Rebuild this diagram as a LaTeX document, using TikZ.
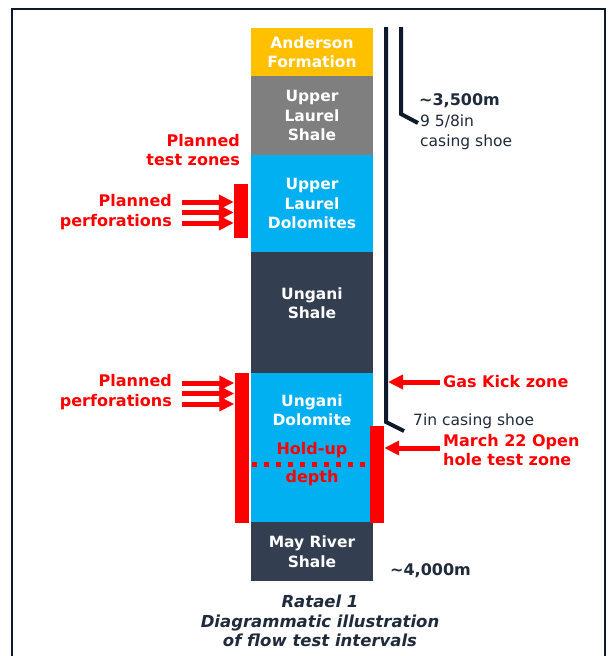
\documentclass[tikz,border=0pt]{standalone}
\usepackage{fontspec}
\setmainfont{DejaVu Sans}
\usetikzlibrary{arrows.meta,positioning}
\definecolor{andersonyellow}{HTML}{FFC000}
\definecolor{shalegrey}{HTML}{7F7F7F}
\definecolor{dolocyan}{HTML}{00B0F0}
\definecolor{shaledark}{HTML}{333F50}
\definecolor{casingnavy}{HTML}{0E1A2B}
\definecolor{textnavy}{HTML}{1F2A3A}
\definecolor{zonered}{HTML}{FF0000}

\begin{document}
\begin{tikzpicture}[x=1pt,y=-1pt,
    layer/.style={minimum width=122pt,inner sep=0pt,text=white,align=center,
                  font=\fontsize{15.5}{19.5}\selectfont\bfseries},
    redtxt/.style={text=zonered,inner sep=0pt,font=\fontsize{16}{19.5}\selectfont\bfseries},
    navytxt/.style={text=textnavy,inner sep=0pt,font=\fontsize{15.5}{19.5}\selectfont},
    bar/.style={fill=zonered,minimum width=14pt,inner sep=0pt},
    perf/.style={zonered,line width=5pt,-{Triangle[length=15pt,width=14pt]}},
    casing/.style={casingnavy,line width=4pt}
]
    \useasboundingbox (0,0) rectangle (611,656);
    \draw[casingnavy,line width=2pt] (12,680) -- (12,9) -- (605,9) -- (605,680);

    % formations
    \node[layer,fill=andersonyellow,minimum height=48pt] (anderson) at (312,52) {Anderson\\Formation};
    \node[layer,fill=shalegrey,minimum height=79pt]      (ulshale)  at (312,115.5) {Upper\\Laurel\\Shale};
    \node[layer,fill=dolocyan,minimum height=97pt]       (uldolo)   at (312,203.5) {Upper\\Laurel\\Dolomites};
    \node[layer,fill=shaledark,minimum height=121pt]     (ushale)   at (312,312.5) {};
    \node[layer,fill=dolocyan,minimum height=149pt]      (udolo)    at (312,447.5) {};
    \node[layer,fill=shaledark,minimum height=59pt]      (mrshale)  at (312,551.5) {May River\\Shale};
    \node[layer,minimum height=0pt] (ushaletxt) at (312,303) {Ungani\\Shale};
    \node[layer,minimum height=0pt] (udolotxt)  at (312,410) {Ungani\\Dolomite};

    % hold-up depth
    \node[redtxt] (holdup) at (312,450) {Hold-up};
    \node[redtxt] (depth)  at (312,478) {depth};
    \draw[zonered,line width=5pt,dash pattern=on 5pt off 7pt]
        ([yshift=-16.5pt,xshift=1pt]udolo.west) -- ([yshift=-16.5pt]udolo.east);

    % test zone bars
    \node[bar,minimum height=54pt]  (barA) at (241,211) {};
    \node[bar,minimum height=150pt] (barB) at (241.5,448) {};
    \node[bar,minimum height=97pt]  (barC) at (377,474.5) {};

    \node[redtxt,align=right,anchor=east] (testzones) at (240,150) {Planned\\test zones};
    \node[redtxt,align=right,anchor=east] (perfA) at (172,212) {Planned\\perforations};
    \node[redtxt,align=right,anchor=east] (perfB) at (172,392) {Planned\\perforations};
    \foreach \y in {202,212.5,223}
        \draw[perf] (182,\y) -- (barA.west |- 0,\y);
    \foreach \y in {383,393.5,404}
        \draw[perf] (182,\y) -- (barB.west |- 0,\y);

    % casings
    \coordinate (outertop)  at (386,27);
    \coordinate (outerbend) at (386,422);
    \coordinate (outershoe) at (404,431);
    \coordinate (innertop)  at (401,27);
    \coordinate (innerbend) at (401,114);
    \coordinate (innershoe) at (418,123);
    \draw[casing] (outertop) -- (outerbend) -- (outershoe);
    \draw[casing] (innertop) -- (innerbend) -- (innershoe);

    \node[navytxt,anchor=west,font=\fontsize{16}{19.5}\selectfont\bfseries] (depthA) at (419,101) {\textasciitilde3,500m};
    \node[navytxt,anchor=west,align=left] (shoeA) at (420,132) {9 5/8in\\casing shoe};
    \node[navytxt,anchor=west] (shoeB) at (413,421) {7in casing shoe};
    \node[navytxt,anchor=west,font=\fontsize{16}{19.5}\selectfont\bfseries] (depthB) at (390,571) {\textasciitilde4,000m};

    \node[redtxt,anchor=west] (gaskick) at (443,382) {Gas Kick zone};
    \node[redtxt,anchor=west,align=left] (openhole) at (443,450) {March 22 Open\\hole test zone};
    \draw[perf] ([xshift=-3pt]gaskick.west) -- ++(-52,0);
    \draw[perf] ([xshift=-3pt,yshift=2pt]openhole.west) -- ([yshift=2pt]openhole.west -| barC.east);

    % caption
    \node[navytxt,align=center,font=\fontsize{16.5}{19.5}\selectfont\bfseries\itshape] (caption) at (320,621)
        {Ratael 1\\Diagrammatic illustration\\of flow test intervals};
\end{tikzpicture}
\end{document}
